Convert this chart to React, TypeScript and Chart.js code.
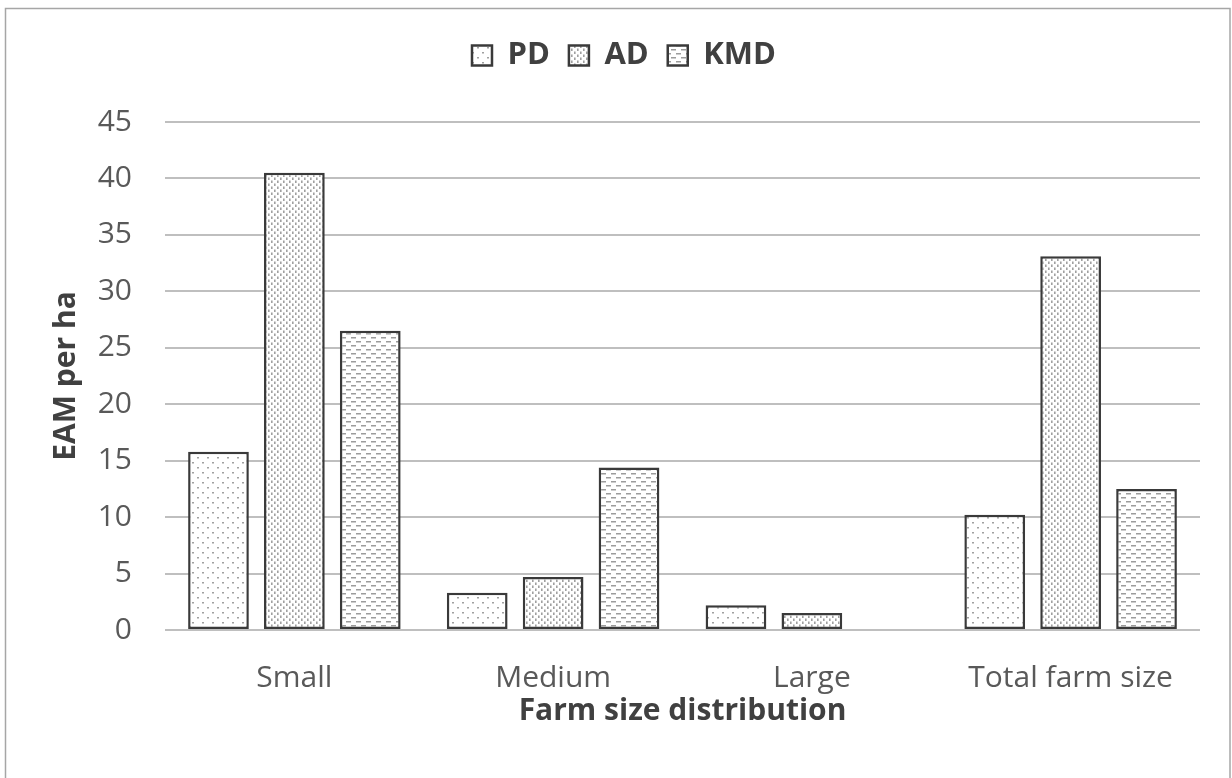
import React, { useEffect, useRef } from "react";
import { Chart, registerables } from "chart.js";

Chart.register(...registerables);

const categories = ["Small", "Medium", "Large", "Total farm size"];
const seriesNames = ["PD", "AD", "KMD"];
const pdValues = [15.8, 3.3, 2.2, 10.2];
const adValues = [40.5, 4.7, 1.5, 33.1];
const kmdValues = [26.5, 14.4, 0, 12.5];
const yTicks = [0, 5, 10, 15, 20, 25, 30, 35, 40, 45];

const FONT = "'Open Sans', 'Liberation Sans', sans-serif";

function makePattern(kind: string): CanvasPattern | string {
  const c = document.createElement("canvas");
  let w = 10, h = 10;
  if (kind === "PD") { w = 10; h = 10; }
  if (kind === "AD") { w = 6; h = 6; }
  if (kind === "KMD") { w = 10; h = 8; }
  c.width = w; c.height = h;
  const ctx = c.getContext("2d");
  if (!ctx) return "#fff";
  ctx.fillStyle = "#ffffff";
  ctx.fillRect(0, 0, w, h);
  if (kind === "PD") {
    ctx.fillStyle = "#a0a0a0";
    ctx.fillRect(2, 2, 2, 1.5);
    ctx.fillRect(7, 7, 2, 1.5);
  } else if (kind === "AD") {
    ctx.fillStyle = "#a0a0a0";
    ctx.fillRect(1, 0.5, 1.6, 2.5);
    ctx.fillRect(4, 3.5, 1.6, 2.5);
  } else {
    ctx.fillStyle = "#9c9c9c";
    ctx.fillRect(1, 1, 5, 1.5);
    ctx.fillRect(6, 5, 4, 1.5);
    ctx.fillRect(0, 5, 1, 1.5);
  }
  const p = ctx.createPattern(c, "repeat");
  return p || "#fff";
}

const framePlugin = {
  id: "frame",
  beforeDraw(chart: any) {
    const ctx = chart.ctx;
    ctx.save();
    ctx.fillStyle = "#ffffff";
    ctx.fillRect(0, 0, chart.width, chart.height);
    ctx.strokeStyle = "#a6a6a6";
    ctx.lineWidth = 1.5;
    ctx.strokeRect(5.5, 8.5, 1224.5, 800);
    ctx.restore();
  },
};

export default function App() {
  const ref = useRef<HTMLCanvasElement | null>(null);

  useEffect(() => {
    if (!ref.current) return;
    const values = [pdValues, adValues, kmdValues];
    const chart = new Chart(ref.current, {
      type: "bar",
      data: {
        labels: categories,
        datasets: seriesNames.map((name, i) => ({
          label: name,
          data: values[i],
          backgroundColor: makePattern(name) as any,
          borderColor: "#3a3a3a",
          borderWidth: 2.5,
          borderSkipped: false,
          categoryPercentage: 0.88,
          barPercentage: 0.8,
        })),
      },
      options: {
        responsive: false,
        maintainAspectRatio: false,
        animation: false,
        layout: { padding: { top: 21, left: 48, right: 32, bottom: 0 } },
        plugins: {
          legend: {
            position: "top",
            weight: 3000,
            labels: {
              boxWidth: 20,
              boxHeight: 20,
              padding: 19,
              color: "#404040",
              font: { family: FONT, size: 31, weight: "bold" },
            },
          } as any,
          title: {
            display: true,
            text: "",
            font: { size: 2, lineHeight: 1 },
            padding: { top: 39, bottom: 0 },
          },
          tooltip: { enabled: false },
        },
        scales: {
          x: {
            grid: { display: false, drawTicks: false },
            border: { display: false },
            ticks: {
              color: "#595959",
              padding: 30,
              font: { family: FONT, size: 30 },
            },
            title: {
              display: true,
              text: "Farm size distribution",
              color: "#404040",
              font: { family: FONT, size: 30, weight: "bold" },
              padding: { top: 0, bottom: 49 },
            },
            afterFit: (scale: any) => {
              scale.height = 148;
            },
          },
          y: {
            min: 0,
            max: 45,
            afterBuildTicks: (scale: any) => {
              scale.ticks = yTicks.map((v) => ({ value: v }));
            },
            grid: { color: "#bfbfbf", lineWidth: 2, drawTicks: false },
            border: { display: false },
            ticks: {
              color: "#595959",
              padding: 33,
              font: { family: FONT, size: 30 },
            },
            title: {
              display: true,
              text: "EAM per ha",
              color: "#404040",
              font: { family: FONT, size: 30, weight: "bold" },
              padding: { top: 0, bottom: 0 },
            },
            afterFit: (scale: any) => {
              scale.width = 117;
            },
          },
        },
      },
      plugins: [framePlugin],
    });
    return () => chart.destroy();
  }, []);

  return (
    <div style={{ position: "fixed", left: 0, top: 0, width: 1232, height: 778 }}>
      <canvas ref={ref} width={1232} height={778} style={{ width: 1232, height: 778 }} />
    </div>
  );
}
